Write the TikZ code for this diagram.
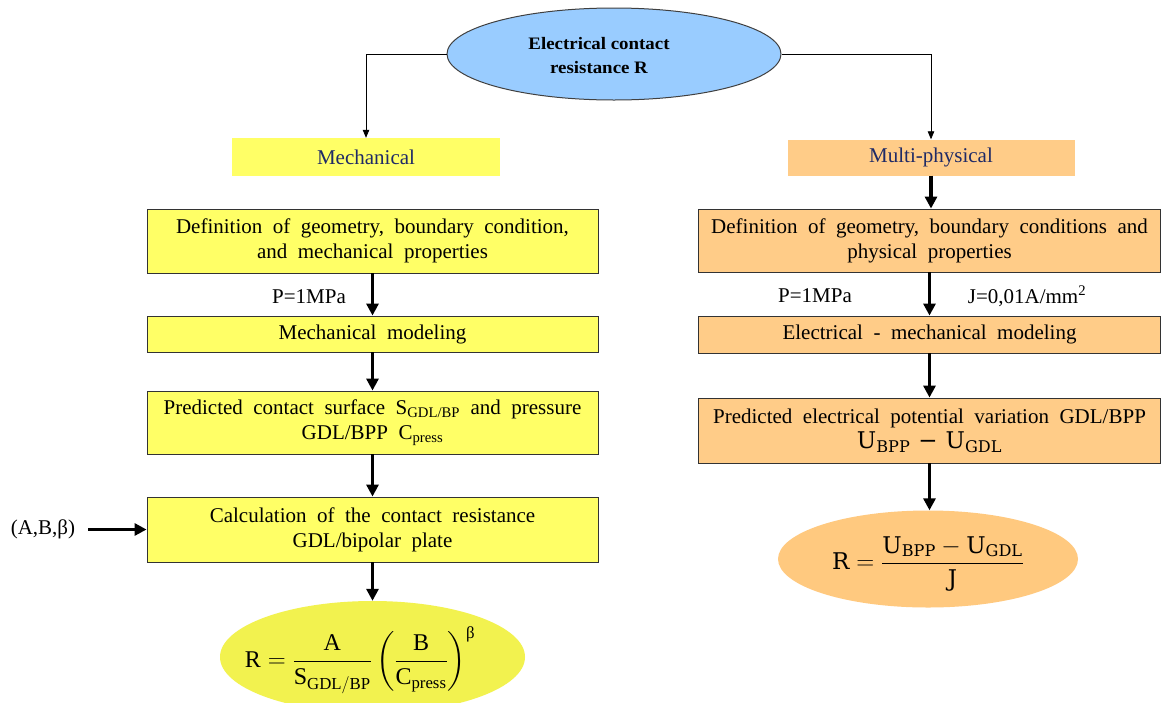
\documentclass[tikz,border=0pt]{standalone}
\usepackage{amsmath}
\usepackage{fontspec}
\setmainfont{Liberation Serif}
\setmathrm{Liberation Serif}
\newfontfamily\camb{DejaVu Serif}
\newfontfamily\stretchbold[FakeStretch=1.08]{Liberation Serif}
\usetikzlibrary{arrows.meta,shapes.geometric,calc}
\definecolor{boxyellow}{HTML}{FFFF66}
\definecolor{ellyellow}{HTML}{F2F24F}
\definecolor{boxorange}{HTML}{FFCC88}
\definecolor{ellorange}{HTML}{FFC97F}
\definecolor{ellblue}{HTML}{99CCFF}
\definecolor{navy}{HTML}{1F2A66}
\begin{document}
\begin{tikzpicture}[x=1pt,y=-1pt,
  box/.style={draw=black!80, line width=0.9pt, rectangle, inner sep=0pt, align=center,
    font={\fontsize{21}{25}\selectfont\spaceskip=0.5em plus 0.1em minus 0.1em\relax}},
  ybox/.style={box, fill=boxyellow},
  obox/.style={box, fill=boxorange},
  header/.style={rectangle, inner sep=0pt, font=\fontsize{21}{24}\selectfont, text=navy},
  bigarrow/.style={line width=3.5pt, -{Triangle[width=12pt,length=12pt]}},
  thinarrow/.style={line width=0.8pt, -{Triangle[width=6.5pt,length=8pt]}},
  lbl/.style={inner sep=0pt, font=\fontsize{21}{24}\selectfont}
]
\useasboundingbox (0,0) rectangle (1162,702);
\fill[white] (0,0) rectangle (1162,702);

% top ellipse
\node[ellipse, draw=black!75, line width=1pt, fill=ellblue, minimum width=334pt, minimum height=92pt, inner sep=0pt] (top) at (614,54) {};
\node[align=center, inner sep=0pt, font={\fontsize{17.5}{24}\stretchbold\bfseries}] (toptxt) at (599,56) {Electrical contact\\resistance R};

% headers
\node[header, fill=boxyellow, minimum width=268pt, minimum height=38pt] (mechH) at (366,157) {Mechanical};
\node[header, fill=boxorange, minimum width=287pt, minimum height=36pt] (multiH) at (931,157.5) {Multi-physical};

\draw[thinarrow] (top.west) -| (mechH.north);
\draw[thinarrow] (top.east) -| (multiH.north);

% left column
\node[ybox, minimum width=451pt, minimum height=64pt] (def1) at (372.5,241) {Definition of geometry, boundary condition,\\and mechanical properties};
\node[ybox, minimum width=451pt, minimum height=36pt] (mech) at (372.5,334) {Mechanical modeling};
\node[ybox, minimum width=451pt, minimum height=63pt] (pred1) at (372.5,422.5) {Predicted contact surface S\textsubscript{GDL/BP} and pressure\\GDL/BPP C\textsubscript{press}};
\node[ybox, minimum width=451pt, minimum height=65pt] (calc) at (372.5,529.5) {Calculation of the contact resistance\\GDL/bipolar plate};
\node[ellipse, fill=ellyellow, minimum width=305pt, minimum height=112pt, inner sep=0pt] (resL) at (372.5,657) {};
\node[inner sep=0pt, font=\fontsize{24}{30}\selectfont] (formL) at (360,660)
  {$\mathrm{R} = \dfrac{\mathrm{A}}{\mathrm{S}_{\mathrm{GDL/BP}}}\left(\dfrac{\mathrm{B}}{\mathrm{C}_{\mathrm{press}}}\right)^{\text{β}}$};

\node[lbl] (p1) at (309,297) {P=1MPa};
\node[lbl] (abb) at (43,529.5) {(A,B,β)};

\draw[bigarrow] (def1.south) -- (mech.north);
\draw[bigarrow] (mech.south) -- (pred1.north);
\draw[bigarrow] (pred1.south) -- (calc.north);
\draw[bigarrow] (calc.south) -- (resL.north);
\draw[bigarrow, shorten <=13pt] (abb.east) -- (calc.west);

% right column
\node[obox, minimum width=462pt, minimum height=63pt] (def2) at (929.5,240.5) {Definition of geometry, boundary conditions and\\physical properties};
\node[obox, minimum width=462pt, minimum height=37pt] (emod) at (929.5,334.5) {Electrical - mechanical modeling};
\node[obox, minimum width=462pt, minimum height=65pt] (pred2) at (929.5,430.5) {Predicted electrical potential variation GDL/BPP\\{\camb\fontsize{23}{24}\selectfont U\textsubscript{BPP}\hspace{0.35em}−\hspace{0.35em}U\textsubscript{GDL}}};
\node[ellipse, fill=ellorange, minimum width=300pt, minimum height=97pt, inner sep=0pt] (resR) at (928,559) {};
\node[inner sep=0pt, font=\fontsize{23}{28}\selectfont] (formR) at (928,564)
  {$\text{\camb R} = \dfrac{\text{\camb U}_{\text{\camb BPP}} - \text{\camb U}_{\text{\camb GDL}}}{\text{\camb J}}$};

\node[lbl] (p2) at (815,296) {P=1MPa};
\node[lbl] (jj) at (1027,296) {J=0,01A/mm\textsuperscript{2}};

\draw[bigarrow] (multiH.south) -- (multiH.south |- def2.north);
\draw[bigarrow] (def2.south) -- (emod.north);
\draw[bigarrow] (emod.south) -- (pred2.north);
\draw[bigarrow] (pred2.south) -- (pred2.south |- resR.north);
\end{tikzpicture}
\end{document}
